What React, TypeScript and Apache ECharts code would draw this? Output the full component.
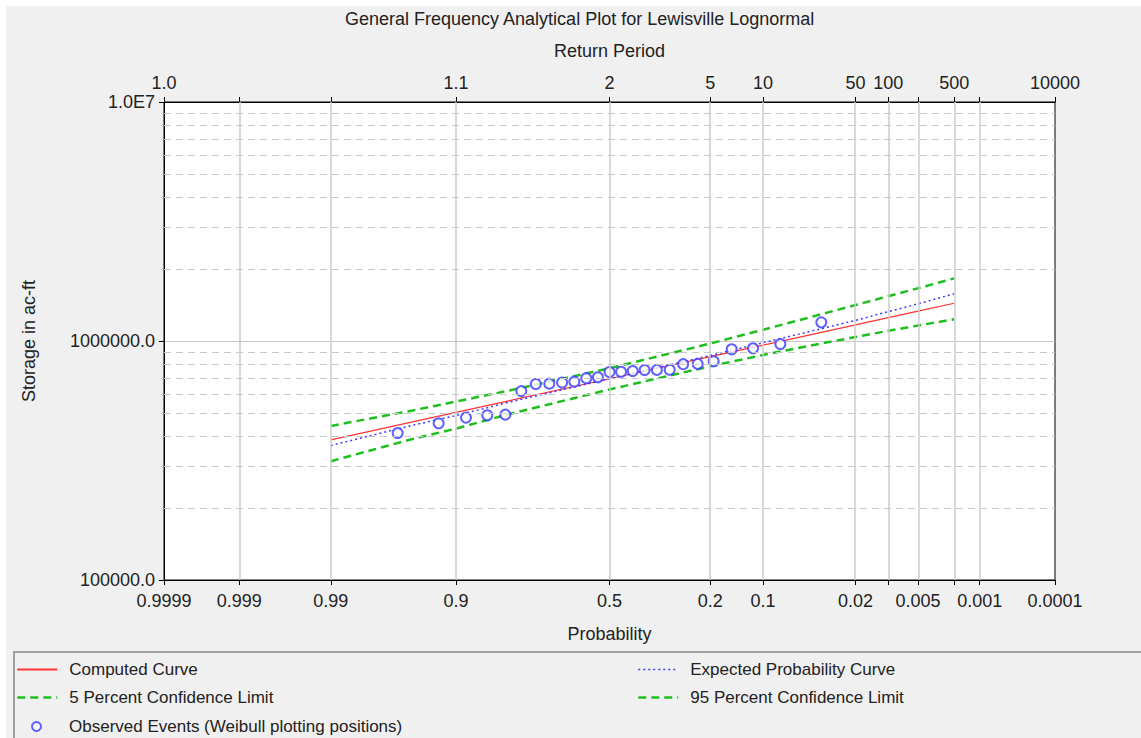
import React, { useEffect, useRef } from "react";
import * as echarts from "echarts";

// ---------- data ----------
const TITLE = "General Frequency Analytical Plot for Lewisville Lognormal";

// exceedance probabilities of the axis ticks (left → right)
const probTicks = [0.9999, 0.999, 0.99, 0.9, 0.5, 0.2, 0.1, 0.02, 0.01, 0.005, 0.002, 0.001, 0.0001];
const probLabels = ["0.9999", "0.999", "0.99", "0.9", "0.5", "0.2", "0.1", "0.02", "", "0.005", "", "0.001", "0.0001"];
const returnLabels = ["1.0", "", "", "1.1", "2", "5", "10", "50", "100", "", "500", "", "10000"];
const gridProbs = [0.999, 0.99, 0.9, 0.5, 0.2, 0.1, 0.02, 0.01, 0.005, 0.002, 0.001];

const yTickValues = [100000, 1000000, 10000000];
const yTickLabels = ["100000.0", "1000000.0", "1.0E7"];
const minorStorage = [
  200000, 300000, 400000, 500000, 600000, 700000, 800000, 900000,
  2000000, 3000000, 4000000, 5000000, 6000000, 7000000, 8000000, 9000000,
];

// frequency curves
const curveProbs = [0.99, 0.95, 0.9, 0.8, 0.5, 0.2, 0.1, 0.05, 0.02, 0.01, 0.005, 0.002];
const computedCurve = [386000, 459000, 503000, 562000, 695000, 860000, 961000, 1053000, 1168000, 1252000, 1333000, 1439000];
const expectedCurve = [365500, 444000, 487500, 554000, 695000, 870000, 983000, 1088000, 1220000, 1326000, 1431000, 1576000];
const conf5Curve = [441000, 512000, 558000, 620000, 769000, 976000, 1114000, 1246000, 1414000, 1540000, 1663000, 1828000];
const conf95Curve = [314000, 389000, 430000, 494000, 627000, 784000, 874000, 950000, 1039000, 1103000, 1161000, 1233000];

// observed events (Weibull plotting positions)
const observedProbs = [
  0.9615, 0.9231, 0.8846, 0.8462, 0.8077, 0.7692, 0.7308, 0.6923, 0.6538, 0.6154, 0.5769, 0.5385, 0.5,
  0.4615, 0.4231, 0.3846, 0.3462, 0.3077, 0.2692, 0.2308, 0.1923, 0.1538, 0.1154, 0.0769, 0.0385,
];
const observedValues = [
  412000, 453000, 478000, 489000, 492000, 617000, 661000, 663000, 670000, 676000, 699000, 705000, 742000,
  744000, 749000, 756000, 757000, 758000, 800000, 802000, 823000, 923000, 932000, 972000, 1197000,
];

// ---------- normal-probability scale ----------
function normInv(p: number): number {
  const a = [-3.969683028665376e1, 2.209460984245205e2, -2.759285104469687e2, 1.38357751867269e2, -3.066479806614716e1, 2.506628277459239];
  const b = [-5.447609879822406e1, 1.615858368580409e2, -1.556989798598866e2, 6.680131188771972e1, -1.328068155288572e1];
  const c = [-7.784894002430293e-3, -3.223964580411365e-1, -2.400758277161838, -2.549732539343734, 4.374664141464968, 2.938163982698783];
  const d = [7.784695709041462e-3, 3.224671290700398e-1, 2.445134137142996, 3.754408661907416];
  const pl = 0.02425;
  if (p < pl) {
    const q = Math.sqrt(-2 * Math.log(p));
    return (((((c[0] * q + c[1]) * q + c[2]) * q + c[3]) * q + c[4]) * q + c[5]) / ((((d[0] * q + d[1]) * q + d[2]) * q + d[3]) * q + 1);
  }
  if (p <= 1 - pl) {
    const q = p - 0.5;
    const r = q * q;
    return ((((((a[0] * r + a[1]) * r + a[2]) * r + a[3]) * r + a[4]) * r + a[5]) * q) / (((((b[0] * r + b[1]) * r + b[2]) * r + b[3]) * r + b[4]) * r + 1);
  }
  const q = Math.sqrt(-2 * Math.log(1 - p));
  return -(((((c[0] * q + c[1]) * q + c[2]) * q + c[3]) * q + c[4]) * q + c[5]) / ((((d[0] * q + d[1]) * q + d[2]) * q + d[3]) * q + 1);
}
// position on the x axis of an exceedance probability
const pos = (p: number) => normInv(1 - p);

const X_MIN = pos(0.9999);
const X_MAX = pos(0.0001);
const tickPos = probTicks.map(pos);
const labelAt = (v: number, labels: string[]) => {
  const i = tickPos.findIndex((t) => Math.abs(t - v) < 1e-6);
  return i >= 0 ? labels[i] : "";
};

const FONT = "Liberation Sans, Arial, sans-serif";
const TXT = "#222222";
const RED = "#ff3333";
const BLUE = "#3b3bff";
const GREEN = "#1fbf1f";

const pairs = (probs: number[], vals: number[]) => probs.map((p, i) => [pos(p), vals[i]]);

function buildOption(): any {
  const axisFont = { fontSize: 18, color: TXT, fontFamily: FONT };
  const legendFont = { fontSize: 17, color: TXT, fontFamily: FONT };
  const hideSym = () => ({ opacity: 0 });
  const redStyle = () => ({ color: RED, width: 1.2 });
  const blueStyle = () => ({ color: BLUE, width: 1.5, type: [2, 3] });
  const greenStyle = () => ({ color: GREEN, width: 2.5, type: [8, 5] });
  return {
    animation: false,
    textStyle: { fontFamily: FONT },
    title: {
      text: TITLE,
      left: 339,
      top: 4,
      padding: 0,
      textStyle: { fontSize: 18, fontWeight: "normal", color: TXT, fontFamily: FONT },
    },
    grid: {
      left: 158,
      top: 96,
      width: 891,
      height: 478,
      show: true,
      backgroundColor: "#ffffff",
      borderColor: "#000000",
      borderWidth: 1,
      containLabel: false,
      outerBoundsMode: "none",
    },
    xAxis: [
      {
        type: "value",
        position: "bottom",
        min: X_MIN,
        max: X_MAX,
        name: "Probability",
        nameLocation: "middle",
        nameGap: 45,
        nameTextStyle: axisFont,
        axisLine: { show: true, onZero: false, lineStyle: { color: "#000", width: 1 } },
        axisTick: { show: true, length: 5, customValues: tickPos, lineStyle: { color: "#000" } },
        axisLabel: {
          show: true,
          customValues: tickPos,
          formatter: (v: number) => labelAt(v, probLabels),
          margin: 12,
          ...axisFont,
        },
        splitLine: { show: false },
      },
      {
        type: "value",
        position: "top",
        min: X_MIN,
        max: X_MAX,
        name: "Return Period",
        nameLocation: "middle",
        nameGap: 42,
        nameTextStyle: axisFont,
        axisLine: { show: true, onZero: false, lineStyle: { color: "#000", width: 1 } },
        axisTick: { show: true, length: 5, customValues: tickPos, lineStyle: { color: "#000" } },
        axisLabel: {
          show: true,
          customValues: tickPos,
          formatter: (v: number) => labelAt(v, returnLabels),
          margin: 10,
          ...axisFont,
        },
        splitLine: { show: false },
      },
    ],
    yAxis: {
      type: "log",
      logBase: 10,
      min: 100000,
      max: 10000000,
      name: "Storage in ac-ft",
      nameLocation: "middle",
      nameRotate: 90,
      nameGap: 126,
      nameTextStyle: axisFont,
      axisLine: { show: true, onZero: false, lineStyle: { color: "#000", width: 1 } },
      axisTick: { show: true, length: 5, lineStyle: { color: "#000" } },
      axisLabel: {
        margin: 9,
        formatter: (v: number) => {
          const i = yTickValues.findIndex((t) => Math.abs(Math.log10(t) - Math.log10(v)) < 1e-6);
          return i >= 0 ? yTickLabels[i] : "";
        },
        ...axisFont,
      },
      splitLine: { show: true, lineStyle: { color: "#c8c8c8", width: 1 } },
    },
    legend: [
      {
        left: 10,
        top: 655,
        orient: "vertical",
        padding: 0,
        itemWidth: 40,
        itemHeight: 14,
        itemGap: 11,
        selectedMode: false,
        textStyle: { ...legendFont, padding: [0, 0, 0, 7] },
        data: [
          { name: "Computed Curve", itemStyle: hideSym() },
          { name: "5 Percent Confidence Limit", itemStyle: hideSym(), lineStyle: greenStyle() },
        ],
      },
      {
        left: 631,
        top: 655,
        orient: "vertical",
        padding: 0,
        itemWidth: 40,
        itemHeight: 14,
        itemGap: 11,
        selectedMode: false,
        textStyle: { ...legendFont, padding: [0, 0, 0, 7] },
        data: [
          { name: "Expected Probability Curve", itemStyle: hideSym(), lineStyle: blueStyle() },
          { name: "95 Percent Confidence Limit", itemStyle: hideSym(), lineStyle: greenStyle() },
        ],
      },
      {
        left: 25,
        top: 712,
        orient: "vertical",
        padding: 0,
        itemWidth: 9,
        itemHeight: 9,
        selectedMode: false,
        textStyle: { ...legendFont, padding: [0, 0, 0, 23] },
        data: ["Observed Events (Weibull plotting positions)"],
      },
    ],
    graphic: [
      {
        type: "rect",
        shape: { x: 8, y: 646, width: 1200, height: 200 },
        style: { fill: "none", stroke: "#a0a0a0", lineWidth: 2 },
        silent: true,
      },
    ],
    series: [
      {
        type: "line",
        name: "gridlines",
        data: [],
        silent: true,
        z: 1,
        markLine: {
          silent: true,
          symbol: ["none", "none"],
          label: { show: false },
          animation: false,
          data: [
            ...gridProbs.map((p) => ({ xAxis: pos(p), lineStyle: { color: "#cccccc", width: 1.5, type: "solid" } })),
            ...minorStorage.map((v) => ({ yAxis: v, lineStyle: { color: "#c8c8c8", width: 1, type: [7, 5] } })),
          ],
        },
      },
      {
        type: "line",
        name: "Computed Curve",
        data: pairs(curveProbs, computedCurve),
        symbol: "none",
        showSymbol: false,
        z: 3,
        lineStyle: redStyle(),
        itemStyle: { color: RED },
      },
      {
        type: "line",
        name: "Expected Probability Curve",
        data: pairs(curveProbs, expectedCurve),
        symbol: "none",
        showSymbol: false,
        z: 3,
        lineStyle: blueStyle(),
        itemStyle: { color: BLUE },
      },
      {
        type: "line",
        name: "5 Percent Confidence Limit",
        data: pairs(curveProbs, conf5Curve),
        symbol: "none",
        showSymbol: false,
        z: 3,
        lineStyle: greenStyle(),
        itemStyle: { color: GREEN },
      },
      {
        type: "line",
        name: "95 Percent Confidence Limit",
        data: pairs(curveProbs, conf95Curve),
        symbol: "none",
        showSymbol: false,
        z: 3,
        lineStyle: greenStyle(),
        itemStyle: { color: GREEN },
      },
      {
        type: "scatter",
        name: "Observed Events (Weibull plotting positions)",
        data: pairs(observedProbs, observedValues),
        symbol: "emptyCircle",
        symbolSize: 10,
        z: 4,
        itemStyle: { color: BLUE, borderColor: BLUE, borderWidth: 1.3 },
      },
    ],
  };
}

export default function App() {
  const ref = useRef<HTMLDivElement>(null);
  useEffect(() => {
    const chart = echarts.init(ref.current as HTMLDivElement, null, { renderer: "svg" });
    chart.setOption(buildOption());
    return () => chart.dispose();
  }, []);
  return (
    <div
      ref={ref}
      style={{ position: "fixed", left: 6, top: 6, width: 1135, height: 732, background: "#f0f0f0" }}
    />
  );
}
